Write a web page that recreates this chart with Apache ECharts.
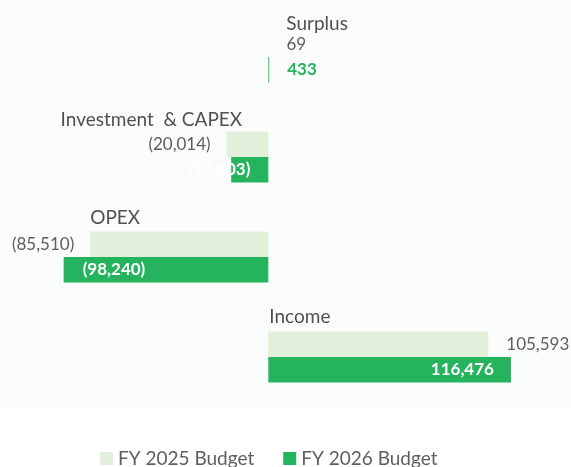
<!DOCTYPE html>
<html>
<head>
<meta charset="utf-8">
<script src="https://cdn.jsdelivr.net/npm/echarts@6/dist/echarts.min.js"></script>
<style>
html, body { margin: 0; padding: 0; background: #fff; }
#main { width: 571px; height: 467px; }
</style>
</head>
<body>
<div id="main"></div>
<script>
var categories = ['Surplus', 'Investment  & CAPEX', 'OPEX', 'Income'];
var budget2025 = [69, -20014, -85510, 105593];
var budget2026 = [433, -17803, -98240, 116476];
var seriesNames = ['FY 2025 Budget', 'FY 2026 Budget'];

var lightGreen = '#e2efda';
var green = '#25b35e';
var font = 'Lato';

function fmt(v) {
    var s = Math.abs(v).toLocaleString('en-US');
    return v < 0 ? '(' + s + ')' : s;
}

// 2025 labels sit outside the bar end
var data2025 = budget2025.map(function (v) {
    return {
        value: v,
        label: { position: v < 0 ? 'left' : 'right', distance: v < 0 ? 16 : 18 }
    };
});

// 2026 labels: each placed by hand like the original
var label2026 = [
    { position: 'right', distance: 18, color: green, fontWeight: 'bold' },
    { position: 'insideRight', distance: 18, color: '#fff', fontWeight: 'bold' },
    { position: 'insideLeft', distance: 19, color: '#fff', fontWeight: 'bold' },
    { position: 'insideRight', distance: 17, color: '#fff', fontWeight: 'bold' }
];
var data2026 = budget2026.map(function (v, i) {
    return { value: v, label: label2026[i] };
});

// category names above each group, anchored at the left end of the 2025 bar
var nameOffsets = [[18, -33], [-166, -37], [0, -39], [1, -40]];
var nameData = categories.map(function (c, i) {
    return {
        value: [Math.min(0, budget2025[i]), c],
        label: { offset: nameOffsets[i] }
    };
});

var chart = echarts.init(document.getElementById('main'));
var option = {
    animation: false,
    graphic: [{
        type: 'rect',
        left: 0, top: 0, z: -10,
        shape: { width: 571, height: 407 },
        style: { fill: '#fafbfb' },
        silent: true
    }],
    legend: {
        data: seriesNames,
        left: 95,
        top: 444,
        icon: 'rect',
        itemWidth: 13,
        itemHeight: 13,
        itemGap: 29,
        textStyle: { color: '#605e5c', fontSize: 19, fontFamily: font }
    },
    grid: { left: 0, right: 0, top: 7, height: 400 },
    xAxis: {
        type: 'value',
        min: -128800,
        max: 145300,
        show: false
    },
    yAxis: {
        type: 'category',
        data: categories,
        inverse: true,
        show: false
    },
    series: [
        {
            name: seriesNames[0],
            type: 'bar',
            data: data2025,
            barGap: '0%',
            barCategoryGap: '49%',
            itemStyle: { color: lightGreen },
            label: {
                show: true,
                formatter: function (p) { return fmt(p.value); },
                color: '#605e5c',
                fontSize: 17,
                fontFamily: font
            }
        },
        {
            name: seriesNames[1],
            type: 'bar',
            data: data2026,
            itemStyle: { color: green },
            label: {
                show: true,
                formatter: function (p) { return fmt(p.value); },
                fontSize: 17,
                fontFamily: font
            }
        },
        {
            type: 'scatter',
            data: nameData,
            symbolSize: 0,
            silent: true,
            label: {
                show: true,
                position: 'right',
                distance: 0,
                formatter: function (p) { return p.value[1]; },
                color: '#252423',
                fontSize: 19,
                fontFamily: font
            }
        }
    ]
};
chart.setOption(option);
</script>
</body>
</html>
